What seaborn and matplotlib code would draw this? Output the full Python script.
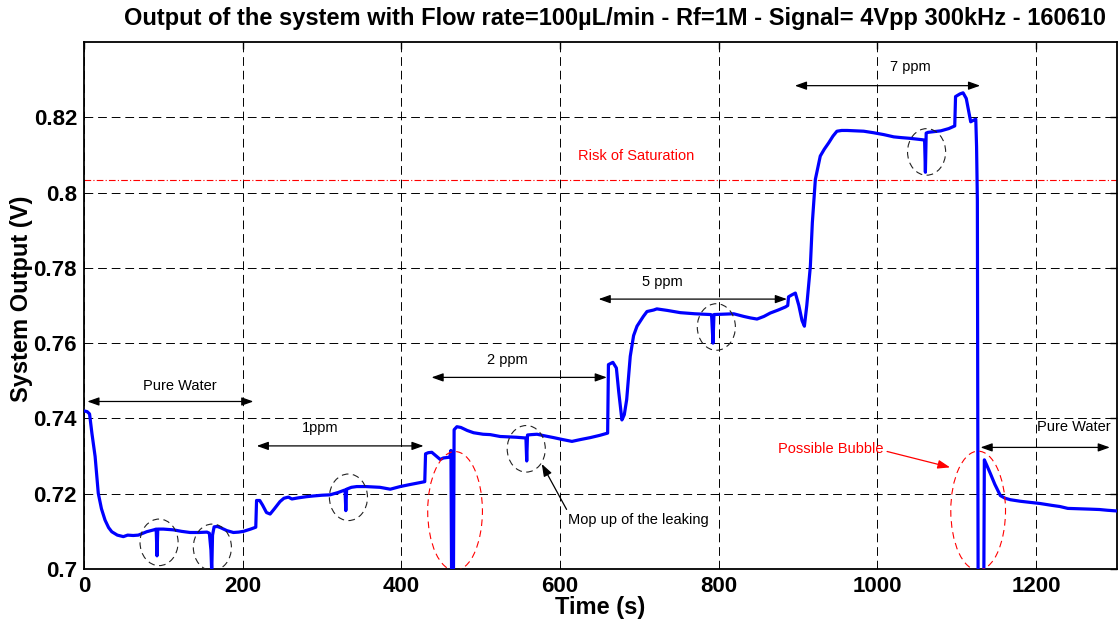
import matplotlib
matplotlib.use("Agg")
import matplotlib.pyplot as plt
from matplotlib.patches import Ellipse
import numpy as np
import pandas as pd
import seaborn as sns

# Recorded sensor trace: time (s) and system output (V)
time_s = [
    0, 4, 7, 10, 14, 18, 22, 26.5, 31, 35, 42, 49.6, 55, 62, 68.5, 79, 88, 91, 92, 93,
    100, 112.7, 123, 133.7, 145, 155, 158, 160, 161, 162, 164, 168, 172, 180, 188.3,
    195, 201, 210, 216.5,
    217.5, 221.5, 225, 230, 234.6, 240, 247, 252, 257.7, 262, 270, 280, 289, 300, 310,
    320, 329, 330, 331, 337, 343.8, 355, 365, 373, 386, 398.5, 410, 420, 429.5,
    430.5, 434, 438.4, 444, 449, 453, 461, 462.5, 463.5, 465.5, 466.5, 470, 475, 483,
    491, 503, 512, 524.6, 535, 545, 557, 558, 559, 564, 571, 580, 592, 603, 615, 626,
    638, 650, 660,
    661, 666.6, 671, 674, 678, 681, 684, 688.5, 692.7, 697, 705, 709.6, 718, 722, 735,
    751.6, 770, 789.4, 791, 792.8, 794, 805, 818.8, 831.5, 840, 848.3, 857, 865, 875,
    884, 887, 888, 892, 896.6, 901, 905, 908, 911, 915.5, 918, 921.8, 928, 933, 938.6,
    944, 949, 955, 961.8, 972, 982.8, 995, 1008, 1020.6, 1030, 1041.6, 1050, 1058,
    1059.5, 1060.5, 1061.5, 1063.8, 1072, 1080, 1090, 1097.5,
    1098.5, 1104, 1108, 1112, 1117.6, 1121, 1124, 1125, 1126, 1127, 1134, 1134.8, 1138,
    1142.5, 1148, 1155, 1161, 1167.7, 1180, 1192, 1205, 1220, 1230, 1240, 1255, 1268,
    1280, 1290, 1303,
]
output_v = [
    0.7420, 0.7418, 0.7412, 0.7360, 0.7299, 0.7201, 0.7160, 0.7130, 0.7110, 0.7099,
    0.7090, 0.7086, 0.7090, 0.7089, 0.7090, 0.7099, 0.7104, 0.7106, 0.7035, 0.7106,
    0.7106, 0.7104, 0.7100, 0.7097, 0.7097, 0.7098, 0.7095, 0.7050, 0.6990, 0.7090,
    0.7112, 0.7113, 0.7110, 0.7102, 0.7097, 0.7098, 0.7100, 0.7106, 0.7111,
    0.7182, 0.7182, 0.7170, 0.7150, 0.7146, 0.7160, 0.7179, 0.7188, 0.7191, 0.7186,
    0.7189, 0.7192, 0.7194, 0.7196, 0.7197, 0.7203, 0.7210, 0.7155, 0.7212, 0.7217,
    0.7219, 0.7219, 0.7218, 0.7217, 0.7212, 0.7219, 0.7224, 0.7228, 0.7232,
    0.7306, 0.7309, 0.7310, 0.7300, 0.7291, 0.7295, 0.7297, 0.7315, 0.6900, 0.6900,
    0.7370, 0.7378, 0.7376, 0.7368, 0.7362, 0.7358, 0.7357, 0.7352, 0.7351, 0.7350,
    0.7348, 0.7287, 0.7356, 0.7357, 0.7358, 0.7354, 0.7349, 0.7344, 0.7339, 0.7344,
    0.7349, 0.7355, 0.7361,
    0.7543, 0.7549, 0.7534, 0.7470, 0.7396, 0.7410, 0.7450, 0.7565, 0.7620, 0.7645,
    0.7671, 0.7684, 0.7688, 0.7691, 0.7687, 0.7681, 0.7678, 0.7676, 0.7675, 0.7600,
    0.7676, 0.7677, 0.7678, 0.7671, 0.7667, 0.7664, 0.7671, 0.7680, 0.7688, 0.7696,
    0.7700, 0.7723, 0.7728, 0.7733, 0.7700, 0.7660, 0.7645, 0.7700, 0.7804, 0.7920,
    0.8035, 0.8097, 0.8115, 0.8132, 0.8150, 0.8163, 0.8165, 0.8165, 0.8164, 0.8163,
    0.8159, 0.8154, 0.8148, 0.8146, 0.8144, 0.8142, 0.8140, 0.8138, 0.8054, 0.8158,
    0.8160, 0.8162, 0.8164, 0.8170, 0.8177,
    0.8255, 0.8262, 0.8265, 0.8250, 0.8188, 0.8192, 0.8195, 0.8122, 0.7980, 0.6900,
    0.6900, 0.7290, 0.7275, 0.7253, 0.7225, 0.7195, 0.7188, 0.7184, 0.7180, 0.7177,
    0.7174, 0.7169, 0.7166, 0.7161, 0.7160, 0.7159, 0.7158, 0.7156, 0.7154,
]

x_ticks = [0, 200, 400, 600, 800, 1000, 1200]
y_ticks = [0.70, 0.72, 0.74, 0.76, 0.78, 0.80, 0.82]
y_tick_labels = ["0.7", "0.72", "0.74", "0.76", "0.78", "0.8", "0.82"]

saturation_level = 0.8034

# Concentration phases: label, start, end, arrow level, label position
phase_labels = ["Pure Water", "1ppm", "2 ppm", "5 ppm", "7 ppm", "Pure Water"]
phase_start = [4.2, 217.7, 438, 648.6, 896, 1130]
phase_end = [213.5, 428, 659, 886, 1129.5, 1293]
phase_arrow_v = [0.7445, 0.7327, 0.7509, 0.7717, 0.8284, 0.7323]
phase_text_t = [121, 297.6, 533, 728.5, 1041, 1248]
phase_text_v = [0.7487, 0.7374, 0.7556, 0.7763, 0.8334, 0.7378]

# Small disturbances (black) and bubble events (red)
dip_t = [94.6, 161.8, 333.3, 557.4, 797, 1062]
dip_v = [0.70708, 0.70575, 0.71905, 0.73193, 0.76429, 0.8108]
bubble_t = [467.7, 1127]
bubble_v = [0.7154, 0.7155]

df = pd.DataFrame({"Time (s)": time_s, "System Output (V)": output_v})

sns.set_style("white")
plt.rcParams["font.family"] = ["Liberation Sans", "DejaVu Sans"]
plt.rcParams["text.color"] = "black"
plt.rcParams["axes.labelcolor"] = "black"
plt.rcParams["xtick.color"] = "black"
plt.rcParams["ytick.color"] = "black"

fig = plt.figure(figsize=(11.19, 6.21), dpi=100)
ax = fig.add_axes([84 / 1119, 1 - 569 / 621, 1033 / 1119, 527 / 621])

sns.lineplot(data=df, x="Time (s)", y="System Output (V)", sort=False,
             estimator=None, color="#0000FF", lw=2.3, ax=ax, zorder=3)

ax.set_xlim(0, 1302)
ax.set_ylim(0.70, 0.840)
ax.set_xticks(x_ticks)
ax.set_yticks(y_ticks)
ax.set_yticklabels(y_tick_labels)
ax.tick_params(axis="both", which="major", direction="in", length=5, width=1,
               labelsize=16, top=True, right=True, pad=5, color="k",
               labelcolor="black")
for lab in ax.get_xticklabels() + ax.get_yticklabels():
    lab.set_fontweight("bold")

ax.grid(True, color="black", linestyle=(0, (9, 5)), lw=0.7, zorder=1)
for sp in ax.spines.values():
    sp.set_color("black")
    sp.set_linewidth(1.3)
    sp.set_visible(True)

ax.set_xlabel("Time (s)", fontsize=17, fontweight="bold", color="black")
ax.set_ylabel("System Output (V)", fontsize=17, fontweight="bold", color="black")
ax.xaxis.set_label_coords(0.5, -0.051)
ax.yaxis.set_label_coords(-0.049, 0.512)

fig.text(615 / 1119, 1 - 18 / 621,
         "Output of the system with Flow rate=100µL/min - Rf=1M - Signal= 4Vpp 300kHz - 160610",
         ha="center", va="center", fontsize=17, fontweight="bold", color="black")

# Saturation threshold
ax.axhline(saturation_level, color="red", lw=0.8, linestyle=(0, (6, 2, 1, 2)), zorder=2)
ax.text(695.7, 0.8097, "Risk of Saturation", color="red", fontsize=10.5,
        ha="center", va="center")

# Phase arrows and labels
for lab, t0, t1, av, tt, tv in zip(phase_labels, phase_start, phase_end,
                                   phase_arrow_v, phase_text_t, phase_text_v):
    ax.annotate("", xy=(t1, av), xytext=(t0, av),
                arrowprops=dict(arrowstyle="<|-|>,head_length=0.7,head_width=0.25",
                                color="black", lw=0.9, shrinkA=0, shrinkB=0),
                zorder=4)
    ax.text(tt, tv, lab, fontsize=10.5, ha="center", va="center", color="black")

# Circled disturbances
for t, v in zip(dip_t, dip_v):
    ax.add_patch(Ellipse((t, v), width=48, height=0.01237, fill=False,
                         edgecolor="#222222", lw=0.8, linestyle=(0, (6, 4)), zorder=4))
for t, v in zip(bubble_t, bubble_v):
    ax.add_patch(Ellipse((t, v), width=69, height=0.0316, fill=False,
                         edgecolor="red", lw=0.8, linestyle=(0, (6, 4)), zorder=4))

ax.annotate("Mop up of the leaking", xy=(577, 0.7279), xytext=(610.5, 0.7131),
            fontsize=10.5, ha="left", va="center", color="black",
            arrowprops=dict(arrowstyle="-|>,head_length=0.7,head_width=0.25",
                            color="black", lw=0.9, shrinkA=0, shrinkB=0,
                            relpos=(0.0, 1.0)))

ax.annotate("Possible Bubble", xy=(1091.6, 0.7270), xytext=(941.6, 0.7320),
            fontsize=10.5, ha="center", va="center", color="red",
            arrowprops=dict(arrowstyle="-|>,head_length=0.7,head_width=0.25",
                            color="red", lw=0.9, shrinkA=0, shrinkB=0,
                            relpos=(1.0, 0.35)))

fig.savefig("out.png", dpi=100)
